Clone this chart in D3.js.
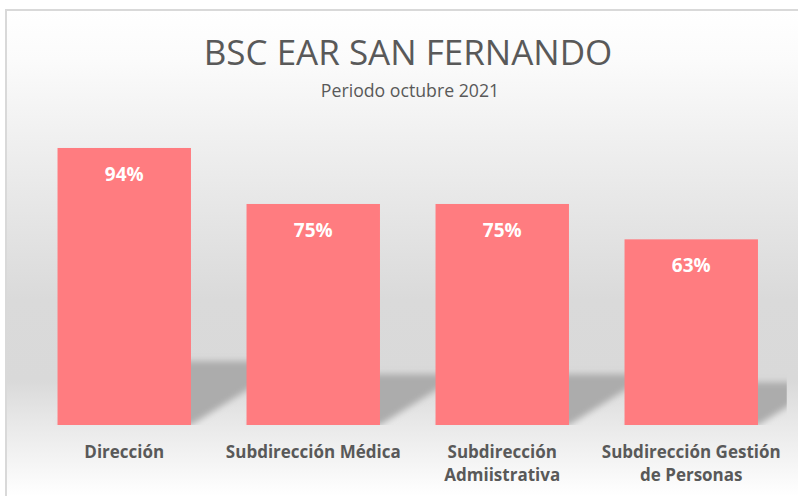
<!DOCTYPE html>
<meta charset="utf-8">
<style>
    body { margin: 0; background: #fff; }
    text { font-family: "Open Sans", "Noto Sans", sans-serif; fill: #595959; }
    .bar { fill: #ff7c80; }
    .label { fill: #fff; font-weight: bold; font-size: 19px; }
    .cat text { font-weight: bold; font-size: 17px; }
</style>
<svg class="chart"></svg>
<script src="https://d3js.org/d3.v7.min.js"></script>
<script>

    // data
    var categories = ["Dirección", "Subdirección Médica", "Subdirección\nAdmiistrativa", "Subdirección Gestión\nde Personas"];
    var values = [0.94, 0.75, 0.75, 0.63];
    var yDomain = [0, 1];

    var width = 798,
        height = 496,
        plot = {left: 29.75, right: 785.75, top: 130.3, bottom: 425};

    var data = categories.map((c, i) => ({name: c, value: values[i]}));

    var svg = d3.select(".chart")
        .attr("width", width)
        .attr("height", height);

    var defs = svg.append("defs");

    // chart background: white -> grey -> white
    var grad = defs.append("linearGradient")
        .attr("id", "bg")
        .attr("gradientUnits", "userSpaceOnUse")
        .attr("x1", 0).attr("x2", 0)
        .attr("y1", 10).attr("y2", height);
    [[10, "#ffffff"], [60, "#fbfbfb"], [130, "#f1f1f1"], [210, "#e6e6e6"],
     [300, "#dadada"], [380, "#d9d9d9"], [425, "#e9e9e9"], [496, "#ffffff"]]
        .forEach(s => grad.append("stop")
            .attr("offset", (s[0] - 10) / (height - 10))
            .attr("stop-color", s[1]));

    defs.append("filter")
        .attr("id", "blur")
        .attr("x", "-20%").attr("y", "-20%")
        .attr("width", "140%").attr("height", "140%")
        .append("feGaussianBlur")
        .attr("stdDeviation", 3);

    defs.append("clipPath")
        .attr("id", "plotClip")
        .append("rect")
        .attr("x", plot.left)
        .attr("y", plot.top)
        .attr("width", plot.right - plot.left + 1)
        .attr("height", plot.bottom - plot.top);

    svg.append("rect")
        .attr("x", 6)
        .attr("y", 10)
        .attr("width", width)
        .attr("height", height)
        .attr("fill", "url(#bg)")
        .attr("stroke", "#d9d9d9")
        .attr("stroke-width", 2);

    var x = d3.scaleBand()
        .domain(categories)
        .range([plot.left, plot.right])
        .paddingInner(0.294)
        .paddingOuter(0.147);

    var y = d3.scaleLinear()
        .domain(yDomain)
        .range([plot.bottom, plot.top]);

    // perspective shadow cast by each bar (flattened and sheared to the right)
    var squash = 0.23, shear = 1.6;
    svg.append("g")
        .attr("clip-path", "url(#plotClip)")
        .append("g")
        .attr("filter", "url(#blur)")
        .selectAll("path")
        .data(data)
        .enter().append("path")
        .attr("fill", "#acacac")
        .attr("d", d => {
            var x0 = x(d.name), x1 = x0 + x.bandwidth();
            var h = (y(0) - y(d.value)) * squash;
            var s = h * shear;
            return "M" + x0 + "," + y(0) + "L" + x1 + "," + y(0) +
                "L" + (x1 + s) + "," + (y(0) - h) + "L" + (x0 + s) + "," + (y(0) - h) + "Z";
        });

    var bar = svg.selectAll(".barg")
        .data(data)
        .enter().append("g")
        .attr("class", "barg")
        .attr("transform", d => "translate(" + x(d.name) + ",0)");

    bar.append("rect")
        .attr("class", "bar")
        .attr("y", d => y(d.value))
        .attr("width", x.bandwidth())
        .attr("height", d => y(0) - y(d.value));

    bar.append("text")
        .attr("class", "label")
        .attr("x", x.bandwidth() / 2)
        .attr("y", d => y(d.value) + 33)
        .attr("text-anchor", "middle")
        .text(d => d3.format(".0%")(d.value));

    // category axis, no line or ticks
    var xAxis = svg.append("g")
        .attr("class", "cat")
        .attr("transform", "translate(0," + plot.bottom + ")")
        .call(d3.axisBottom(x).tickSize(0).tickPadding(0).tickFormat(""));
    xAxis.select(".domain").remove();

    xAxis.selectAll(".tick text")
        .attr("y", 33)
        .attr("dy", 0)
        .each(function (d) {
            var t = d3.select(this);
            d.split("\n").forEach((line, i) => {
                t.append("tspan")
                    .attr("x", 0)
                    .attr("dy", i ? 23 : 0)
                    .text(line);
            });
        });

    svg.append("text")
        .attr("x", 408)
        .attr("y", 65)
        .attr("text-anchor", "middle")
        .style("font-size", "35px")
        .text("BSC EAR SAN FERNANDO");

    svg.append("text")
        .attr("x", 410)
        .attr("y", 97)
        .attr("text-anchor", "middle")
        .style("font-size", "17.7px")
        .text("Periodo octubre 2021");

</script>
